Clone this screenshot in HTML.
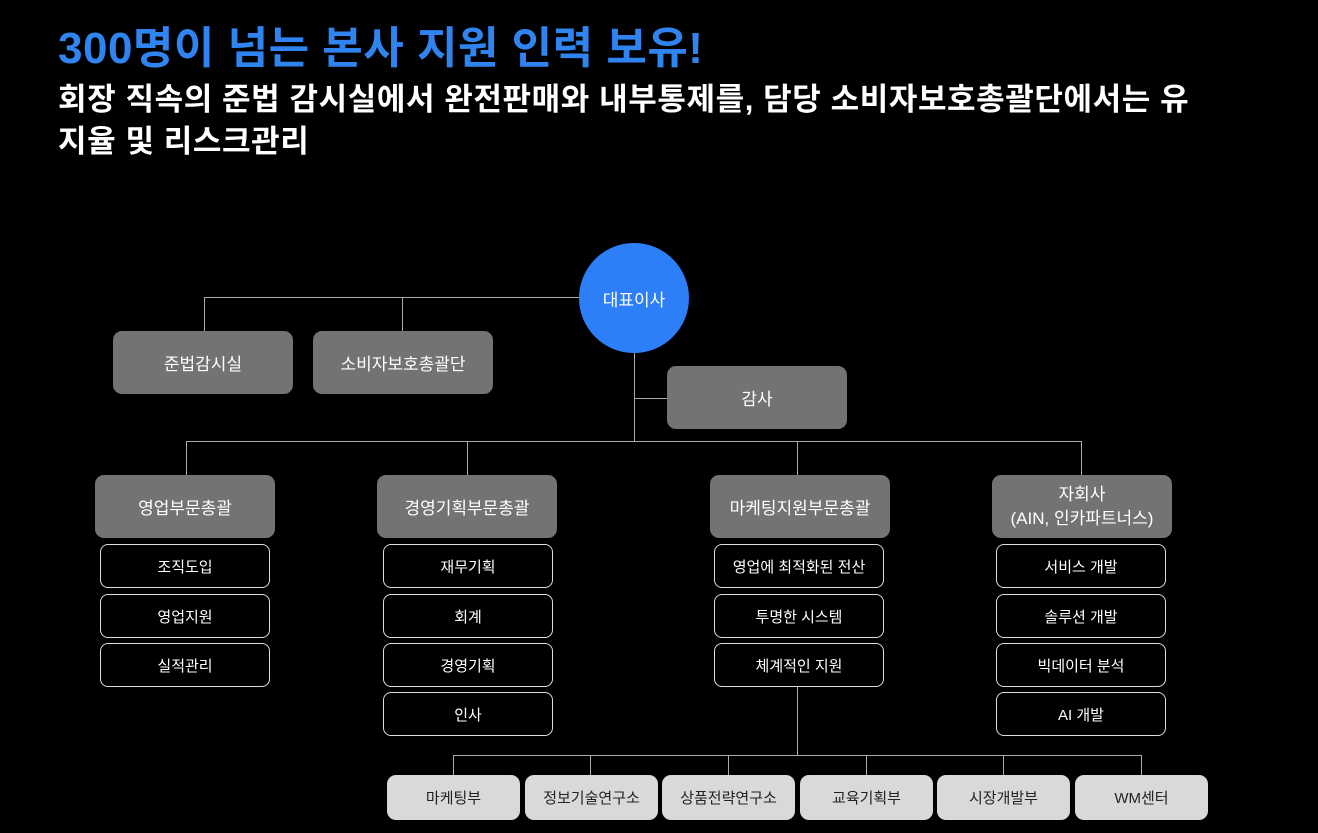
<!DOCTYPE html>
<html><head><meta charset="utf-8"><style>
*{margin:0;padding:0;box-sizing:border-box}
body{width:1318px;height:833px;background:#000;position:relative;overflow:hidden;font-family:"Liberation Sans","Noto Sans CJK KR",sans-serif;color:#fff}
.t{position:absolute;left:58px;top:12px;font-size:44px;font-weight:bold;color:#2f84f0;letter-spacing:0.5px;white-space:nowrap}
.s{position:absolute;left:58px;top:79px;font-size:31px;font-weight:bold;line-height:42px;letter-spacing:0.6px;white-space:nowrap}
.b{position:absolute;display:flex;align-items:center;justify-content:center;text-align:center;font-size:17px}
.g{background:#737373;border-radius:9px;height:63px;width:180px}
.o{border:1.3px solid #ddd;border-radius:8px;height:44px;width:170px;font-size:15px}
.l{background:#d9d9d9;color:#222;border-radius:9px;height:45px;width:133px;font-size:15px}
.ln{position:absolute;background:#aaa}
</style></head><body>
<div class="t">300명이 넘는 본사 지원 인력 보유!</div>
<div class="s">회장 직속의 준법 감시실에서 완전판매와 내부통제를, 담당 소비자보호총괄단에서는 유<br>지율 및 리스크관리</div>

<div class="ln" style="left:204px;top:297px;width:430px;height:1px"></div>
<div class="ln" style="left:204px;top:297px;width:1px;height:34px"></div>
<div class="ln" style="left:402px;top:297px;width:1px;height:34px"></div>
<div class="ln" style="left:634px;top:340px;width:1px;height:101px"></div>
<div class="ln" style="left:634px;top:398px;width:33px;height:1px"></div>
<div class="ln" style="left:186px;top:441px;width:896px;height:1px"></div>
<div class="ln" style="left:186px;top:441px;width:1px;height:34px"></div>
<div class="ln" style="left:467px;top:441px;width:1px;height:34px"></div>
<div class="ln" style="left:797px;top:441px;width:1px;height:34px"></div>
<div class="ln" style="left:1081px;top:441px;width:1px;height:34px"></div>
<div class="ln" style="left:797px;top:687px;width:1px;height:68px"></div>
<div class="ln" style="left:453px;top:755px;width:689px;height:1px"></div>
<div class="ln" style="left:453px;top:755px;width:1px;height:20px"></div>
<div class="ln" style="left:590px;top:755px;width:1px;height:20px"></div>
<div class="ln" style="left:728px;top:755px;width:1px;height:20px"></div>
<div class="ln" style="left:866px;top:755px;width:1px;height:20px"></div>
<div class="ln" style="left:1003px;top:755px;width:1px;height:20px"></div>
<div class="ln" style="left:1141px;top:755px;width:1px;height:20px"></div>

<div class="b" style="left:579px;top:243px;width:110px;height:110px;border-radius:50%;background:#2d7ff9">대표이사</div>
<div class="b g" style="left:113px;top:331px">준법감시실</div>
<div class="b g" style="left:313px;top:331px">소비자보호총괄단</div>
<div class="b g" style="left:667px;top:366px">감사</div>

<div class="b g" style="left:95px;top:475px">영업부문총괄</div>
<div class="b g" style="left:377px;top:475px">경영기획부문총괄</div>
<div class="b g" style="left:710px;top:475px">마케팅지원부문총괄</div>
<div class="b g" style="left:992px;top:475px;line-height:24px">자회사<br>(AIN, 인카파트너스)</div>

<div class="b o" style="left:100px;top:544px">조직도입</div>
<div class="b o" style="left:100px;top:594px">영업지원</div>
<div class="b o" style="left:100px;top:643px">실적관리</div>
<div class="b o" style="left:383px;top:544px">재무기획</div>
<div class="b o" style="left:383px;top:594px">회계</div>
<div class="b o" style="left:383px;top:643px">경영기획</div>
<div class="b o" style="left:383px;top:692px">인사</div>
<div class="b o" style="left:714px;top:544px">영업에 최적화된 전산</div>
<div class="b o" style="left:714px;top:594px">투명한 시스템</div>
<div class="b o" style="left:714px;top:643px">체계적인 지원</div>
<div class="b o" style="left:996px;top:544px">서비스 개발</div>
<div class="b o" style="left:996px;top:594px">솔루션 개발</div>
<div class="b o" style="left:996px;top:643px">빅데이터 분석</div>
<div class="b o" style="left:996px;top:692px">AI 개발</div>

<div class="b l" style="left:387px;top:775px">마케팅부</div>
<div class="b l" style="left:525px;top:775px">정보기술연구소</div>
<div class="b l" style="left:662px;top:775px">상품전략연구소</div>
<div class="b l" style="left:800px;top:775px">교육기획부</div>
<div class="b l" style="left:937px;top:775px">시장개발부</div>
<div class="b l" style="left:1075px;top:775px">WM센터</div>
</body></html>
